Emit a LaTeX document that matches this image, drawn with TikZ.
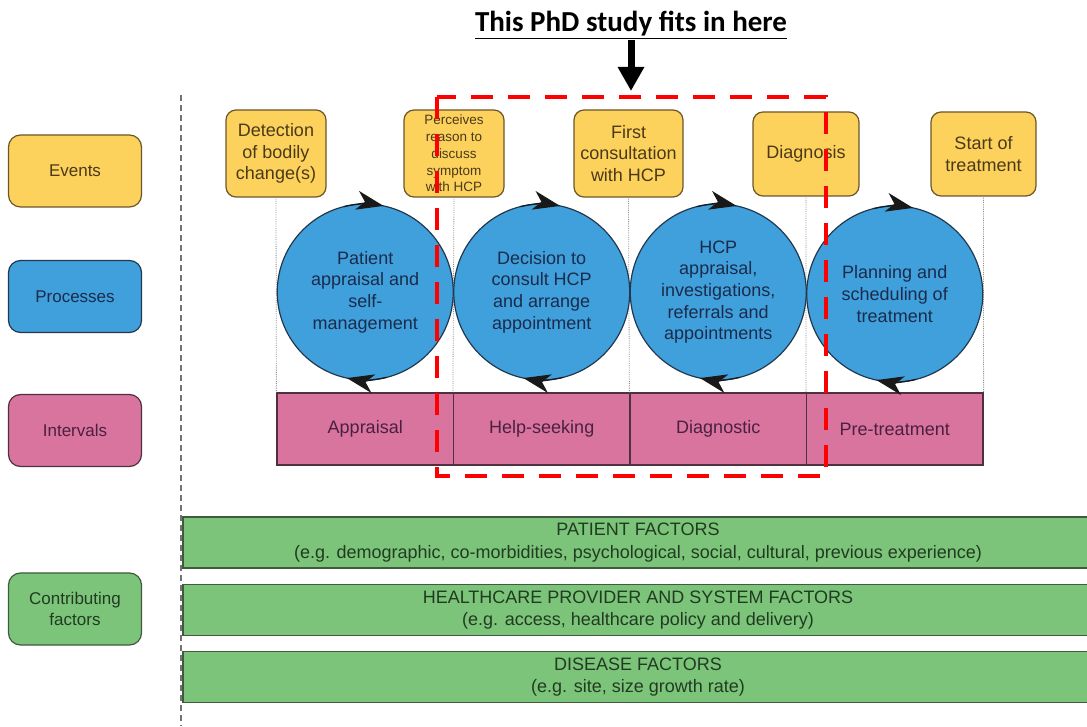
\documentclass[tikz,border=0pt]{standalone}
\usepackage{fontspec}
\setmainfont{Liberation Sans}
\newfontfamily\titlefont{Carlito}
\usetikzlibrary{arrows.meta}

\definecolor{eventfill}{HTML}{FCD15C}
\definecolor{eventline}{HTML}{6B5628}
\definecolor{eventtext}{HTML}{4B3A1A}
\definecolor{procfill}{HTML}{3FA0DC}
\definecolor{procline}{HTML}{23384F}
\definecolor{proctext}{HTML}{1B2B4B}
\definecolor{intfill}{HTML}{D9749E}
\definecolor{intline}{HTML}{4E3040}
\definecolor{inttext}{HTML}{4A2040}
\definecolor{factfill}{HTML}{7CC47A}
\definecolor{factline}{HTML}{3F5A3F}
\definecolor{facttext}{HTML}{213B21}

\tikzset{
  event/.style={draw=eventline, line width=1.2pt, fill=eventfill, rounded corners=10pt,
    minimum width=100pt, minimum height=87pt, align=center, text=eventtext,
    font=\fontsize{18}{21.6}\selectfont, inner sep=2pt},
  legend/.style={draw, line width=1.2pt, rounded corners=12pt, minimum width=133pt,
    minimum height=72pt, align=center, font=\fontsize{17}{20.5}\selectfont},
  process/.style={circle, draw=procline, line width=1.2pt, fill=procfill, minimum size=176pt,
    inner sep=0pt, align=center, text=proctext, font=\fontsize{18}{21.6}\selectfont},
  interval/.style={draw=intline, line width=1.2pt, fill=intfill, minimum width=176.5pt,
    minimum height=72pt, text=inttext, font=\fontsize{18}{21.6}\selectfont, inner sep=0pt},
  factor/.style={draw=factline, line width=1.2pt, fill=factfill, minimum width=910pt,
    minimum height=51pt, align=center, text=facttext, font=\fontsize{18}{22.5}\selectfont,
    inner sep=0pt},
  guide/.style={densely dotted, black!45, line width=0.8pt},
  spinarrow/.style={line width=1.2pt, draw=black!90,
    -{Stealth[length=27pt, width=19pt, inset=8pt]}},
}

\begin{document}
\begin{tikzpicture}[x=1pt, y=1pt]
    \useasboundingbox (0,0) rectangle (1087,726);

    % Legend down the left side
    \node[legend, fill=eventfill, draw=eventline, text=eventtext] (legev) at (75,555) {Events};
    \node[legend, fill=procfill, draw=procline, text=proctext] (legproc) at (75,429.5) {Processes};
    \node[legend, fill=intfill, draw=intline, text=inttext] (legint) at (75,295.5) {Intervals};
    \node[legend, fill=factfill, draw=factline, text=facttext] (legfact) at (75,117) {Contributing\\factors};

    % Separator between legend and pathway
    \draw[black!55, line width=1.4pt, dash pattern=on 6pt off 4pt] (181,631) -- (181,0);

    % Events
    \node[event] (det) at (276,572.5) {Detection\\of bodily\\change(s)};
    \node[event, font=\fontsize{13.5}{16.7}\selectfont] (perc) at (454,572.5)
      {Perceives\\reason to\\discuss\\symptom\\with HCP};
    \node[event, minimum width=109pt] (cons) at (628.5,572.5) {First\\consultation\\with HCP};
    \node[event, minimum width=106pt, minimum height=84pt] (diag) at (806,572) {Diagnosis};
    \node[event, minimum width=105pt, minimum height=84pt] (start) at (983.5,572) {Start of\\treatment};

    % Intervals
    \node[interval] (appr) at (365.25,297) {Appraisal};
    \node[interval] (help) at (541.75,297) {Help-seeking};
    \node[interval] (dgn) at (718.25,297) {Diagnostic};
    \node[interval] (pret) at (894.75,297) {Pre-treatment};

    % Dotted guides from each event down to the interval bar
    \draw[guide] (det.south) -- (appr.north west);
    \draw[guide] (perc.south) -- (help.north west);
    \draw[guide] (cons.south) -- (dgn.north west);
    \draw[guide] (diag.south) -- (pret.north west);
    \draw[guide] (start.south) -- (pret.north east);

    % Processes
    \node[process] (pa) at (365.25,434) {Patient\\appraisal and\\self-\\management};
    \node[process] (dc) at (541.75,434) {Decision to\\consult HCP\\and arrange\\appointment};
    \node[process] (hcp) at (718.25,434) {HCP\\appraisal,\\investigations,\\referrals and\\appointments};
    \node[process] (plan) at (894.75,432) {Planning and\\scheduling of\\treatment};

    % Clockwise arrows on each process
    \draw[spinarrow] ([shift={(104:88)}]pa.center) arc[start angle=104, end angle=78, radius=88];
    \draw[spinarrow] ([shift={(-76:88)}]pa.center) arc[start angle=-76, end angle=-102, radius=88];
    \draw[spinarrow] ([shift={(104:88)}]dc.center) arc[start angle=104, end angle=78, radius=88];
    \draw[spinarrow] ([shift={(-76:88)}]dc.center) arc[start angle=-76, end angle=-102, radius=88];
    \draw[spinarrow] ([shift={(104:88)}]hcp.center) arc[start angle=104, end angle=78, radius=88];
    \draw[spinarrow] ([shift={(-76:88)}]hcp.center) arc[start angle=-76, end angle=-102, radius=88];
    \draw[spinarrow] ([shift={(104:88)}]plan.center) arc[start angle=104, end angle=78, radius=88];
    \draw[spinarrow] ([shift={(-76:88)}]plan.center) arc[start angle=-76, end angle=-102, radius=88];

    % Contributing factors
    \node[factor] (patf) at (638,183.5) {PATIENT FACTORS\\(e.g. demographic, co-morbidities, psychological, social, cultural, previous experience)};
    \node[factor] (hcpf) at (638,116) {HEALTHCARE PROVIDER AND SYSTEM FACTORS\\(e.g. access, healthcare policy and delivery)};
    \node[factor] (disf) at (638,49) {DISEASE FACTORS\\(e.g. site, size growth rate)};

    % Scope of the study
    \draw[red, line width=4.5pt, dash pattern=on 22pt off 15pt] (437,629) rectangle (826,250);
    \node[font=\titlefont\bfseries\fontsize{29}{34}\selectfont, inner sep=1pt] (study) at (631,701)
      {\underline{This PhD study fits in here}};
    \coordinate (scope) at (631,635);
    \draw[line width=7pt, -{Triangle[length=24pt, width=25pt]}] (study.south) -- (scope);
\end{tikzpicture}
\end{document}
